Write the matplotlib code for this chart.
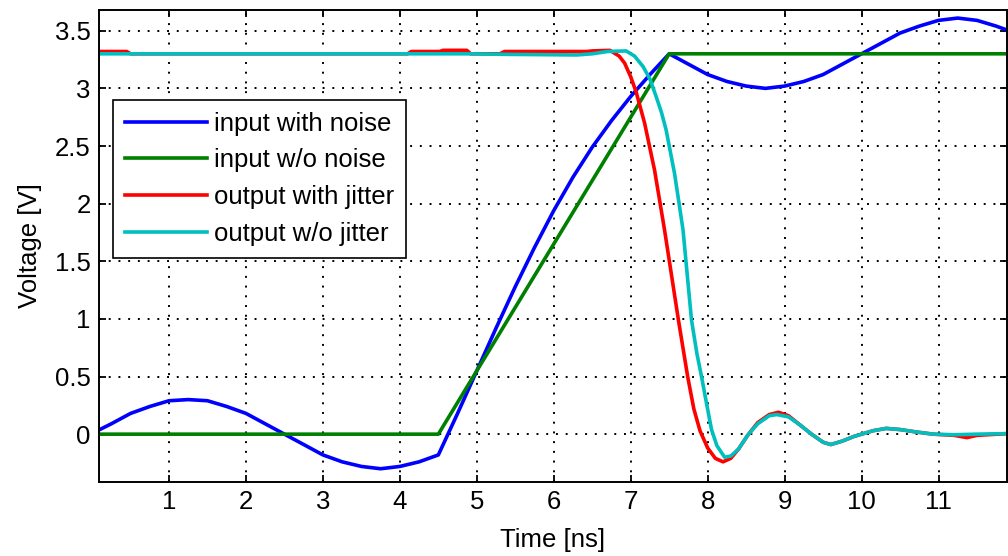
import numpy as np
import matplotlib
matplotlib.use("Agg")
import matplotlib.pyplot as plt

# input with noise
t_in_noise = [0.1, 0.25, 0.5, 0.75, 1.0, 1.25, 1.5, 1.75, 2.0, 2.25, 2.5, 2.75,
              3.0, 3.25, 3.5, 3.75, 4.0, 4.25, 4.5, 4.75, 5.0, 5.25, 5.5, 5.75,
              6.0, 6.25, 6.5, 6.75, 7.0, 7.25, 7.5, 7.75, 8.0, 8.25, 8.5, 8.75,
              9.0, 9.25, 9.5, 9.75, 10.0, 10.25, 10.5, 10.75, 11.0, 11.25, 11.5,
              11.75, 12.0]
v_in_noise = [0.04, 0.09, 0.18, 0.24, 0.29, 0.30, 0.29, 0.24, 0.18, 0.09, 0.0, -0.09,
              -0.18, -0.24, -0.28, -0.30, -0.28, -0.24, -0.18, 0.18, 0.55, 0.92, 1.28, 1.62,
              1.94, 2.23, 2.49, 2.72, 2.93, 3.12, 3.30, 3.21, 3.12, 3.06, 3.02, 3.00,
              3.02, 3.06, 3.12, 3.21, 3.30, 3.39, 3.48, 3.54, 3.59, 3.61, 3.59,
              3.54, 3.48]

# input w/o noise
t_in = [0.1, 4.5, 7.5, 12.0]
v_in = [0.0, 0.0, 3.3, 3.3]

# output with jitter
t_out_jit = [0.1, 0.45, 0.5, 4.1, 4.15, 4.52, 4.56, 4.87, 4.92, 5.3, 5.36, 6.43,
             6.5, 6.73, 6.85, 6.92, 7.0, 7.07, 7.18, 7.31, 7.44, 7.53, 7.62, 7.74,
             7.82, 7.9, 8.0, 8.1, 8.2, 8.3, 8.4, 8.52, 8.65, 8.8, 8.92, 9.05, 9.2,
             9.35, 9.5, 9.6, 9.75, 9.9, 10.0, 10.15, 10.32, 10.5, 10.7, 10.93, 11.2,
             11.37, 11.5, 11.9, 12.0]
v_out_jit = [3.32, 3.32, 3.30, 3.30, 3.32, 3.32, 3.33, 3.33, 3.30, 3.30, 3.32, 3.32,
             3.325, 3.33, 3.28, 3.22, 3.10, 2.97, 2.70, 2.29, 1.77, 1.38, 0.99, 0.50,
             0.22, 0.03, -0.12, -0.21, -0.24, -0.21, -0.13, -0.01, 0.10, 0.17, 0.19, 0.16, 0.08,
             0.0, -0.07, -0.09, -0.06, -0.02, 0.0, 0.03, 0.05, 0.04, 0.02, 0.0, -0.01,
             -0.03, -0.01, 0.005, 0.005]

# output w/o jitter
t_out = [0.1, 4.9, 5.4, 6.3, 6.5, 6.7, 6.94, 7.05, 7.16, 7.25, 7.33, 7.4, 7.46,
         7.57, 7.64, 7.68, 7.79, 7.86, 7.92, 7.99, 8.05, 8.12, 8.22, 8.3, 8.4,
         8.52, 8.65, 8.8, 8.9, 9.05, 9.2, 9.35, 9.5, 9.6, 9.75, 9.9, 10.0, 10.15,
         10.32, 10.5, 10.7, 10.93, 11.2, 11.5, 11.9, 12.0]
v_out = [3.30, 3.30, 3.295, 3.29, 3.30, 3.32, 3.325, 3.28, 3.19, 3.08, 2.93, 2.79, 2.64,
         2.26, 1.95, 1.77, 0.99, 0.70, 0.50, 0.25, 0.04, -0.10, -0.20, -0.19, -0.13,
         -0.01, 0.09, 0.16, 0.17, 0.15, 0.08, 0.0, -0.07, -0.09, -0.06, -0.02, 0.0, 0.03,
         0.05, 0.04, 0.02, 0.0, -0.005, 0.0, 0.005, 0.005]

x_ticks = [1, 2, 3, 4, 5, 6, 7, 8, 9, 10, 11]
y_ticks = [0, 0.5, 1, 1.5, 2, 2.5, 3, 3.5]
y_tick_labels = ["0", "0.5", "1", "1.5", "2", "2.5", "3", "3.5"]

plt.rcParams['font.family'] = ['Liberation Sans', 'DejaVu Sans']
fs = 18.5

fig = plt.figure(figsize=(10.08, 5.56), dpi=100)
ax = fig.add_axes([99 / 1008, 1 - 482 / 556, 908 / 1008, 472 / 556])

lw = 2.6
ax.plot(t_in_noise, v_in_noise, color=(0, 0, 1), lw=lw, label='input with noise')
ax.plot(t_in, v_in, color=(0, 0.5, 0), lw=lw, label='input w/o noise')
ax.plot(t_out_jit, v_out_jit, color=(1, 0, 0), lw=lw, label='output with jitter')
ax.plot(t_out, v_out, color=(0, 0.75, 0.75), lw=lw, label='output w/o jitter')

ax.set_xlim(0.09, 11.89)
ax.set_ylim(-0.415, 3.68)
ax.set_xticks(x_ticks)
ax.set_yticks(y_ticks)
ax.set_yticklabels(y_tick_labels)
ax.grid(True, color='black', linestyle=(0, (1, 4)), linewidth=1.4)
ax.tick_params(direction='in', top=True, right=True, length=5, width=1.3,
               pad=6, labelsize=fs)
for s in ax.spines.values():
    s.set_linewidth(1.4)

ax.set_xlabel('Time [ns]', fontsize=fs, labelpad=10)
ax.set_ylabel('Voltage [V]', fontsize=fs, labelpad=9)

leg = ax.legend(loc='upper left', bbox_to_anchor=(14 / 908, 1 - 90 / 472),
                borderaxespad=0, fancybox=False, framealpha=1, edgecolor='black',
                fontsize=fs, handlelength=3.2, handletextpad=0.3,
                labelspacing=0.5, borderpad=0.45)
leg.get_frame().set_linewidth(1.2)

fig.savefig('out.png', dpi=100)
